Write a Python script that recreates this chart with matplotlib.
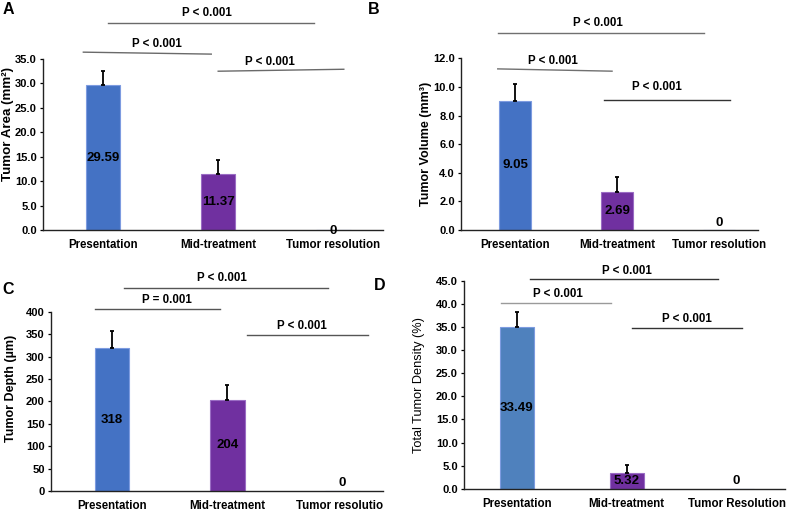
import matplotlib
matplotlib.use("Agg")
import matplotlib.pyplot as plt
from matplotlib.transforms import Bbox, TransformedBbox

plt.rcParams['font.family'] = ['Liberation Sans', 'DejaVu Sans']

# ---------------- data ----------------
categories_abc = ["Presentation", "Mid-treatment", "Tumor resolution"]
categories_d = ["Presentation", "Mid-treatment", "Tumor Resolution"]

area_values = [29.59, 11.37, 0]
area_errors = [3.0, 3.0, 0]
area_labels = ["29.59", "11.37", "0"]
area_yticks = [0, 5, 10, 15, 20, 25, 30, 35]

volume_values = [9.05, 2.69, 0]
volume_errors = [1.15, 1.0, 0]
volume_labels = ["9.05", "2.69", "0"]
volume_yticks = [0, 2, 4, 6, 8, 10, 12]

depth_values = [318, 204, 0]
depth_errors = [38, 33, 0]
depth_labels = ["318", "204", "0"]
depth_yticks = [0, 50, 100, 150, 200, 250, 300, 350, 400]

density_values = [35.0, 3.35, 0]
density_errors = [3.3, 1.7, 0]
density_labels = ["33.49", "5.32", "0"]
density_yticks = [0, 5, 10, 15, 20, 25, 30, 35, 40, 45]

p_texts_a = ["P < 0.001", "P < 0.001", "P < 0.001"]
p_texts_b = ["P < 0.001", "P < 0.001", "P < 0.001"]
p_texts_c = ["P < 0.001", "P = 0.001", "P < 0.001"]
p_texts_d = ["P < 0.001", "P < 0.001", "P < 0.001"]

# ---------------- layout / style ----------------
W, H = 795, 512
BLUE = "#4472C4"
BLUE_D = "#4F81BD"
PURPLE = "#7030A0"

panels = [
    dict(letter="A", letter_xy=(8, 9), rect=(43, 59, 383, 230), xlim=(-0.52, 2.43), width=0.30,
         values=area_values, errors=area_errors, labels=area_labels, yticks=area_yticks, fmt="{:.1f}",
         cats=categories_abc, ylabel="Tumor Area (mm²)", ylabel_size=9.6, ylabel_weight="bold",
         ylabel_xy=(-0.103, 0.62), colors=[BLUE, PURPLE, BLUE], zero_off=-1.5,
         brackets=[(0.04, 1.83, 42.3, 42.3, 0.90, 10.6, "#6a6a6a"),
                   (-0.17, 0.94, 36.4, 36.0, 0.47, 9.0, "#6a6a6a"),
                   (1.00, 2.09, 32.5, 32.9, 1.45, 8.0, "#6a6a6a")],
         ptexts=p_texts_a, clip_right=None),
    dict(letter="B", letter_xy=(374, 9), rect=(461, 58.3, 758, 230), xlim=(-0.53, 2.38), width=0.31,
         values=volume_values, errors=volume_errors, labels=volume_labels, yticks=volume_yticks, fmt="{:.1f}",
         cats=categories_abc, ylabel="Tumor Volume (mm³)", ylabel_size=9.0, ylabel_weight="bold",
         ylabel_xy=(-0.118, 0.50), colors=[BLUE, PURPLE, BLUE], zero_off=7,
         brackets=[(-0.17, 1.85, 13.75, 13.75, 0.81, 10.3, "#707070"),
                   (-0.17, 0.95, 11.26, 11.10, 0.37, 9.0, "#707070"),
                   (0.87, 2.11, 9.09, 9.09, 1.39, 13.0, "#333333")],
         ptexts=p_texts_b, clip_right=None),
    dict(letter="C", letter_xy=(8.5, 289.5), rect=(51, 311.7, 383, 491), xlim=(-0.53, 2.35), width=0.30,
         values=depth_values, errors=depth_errors, labels=depth_labels, yticks=depth_yticks, fmt="{:.0f}",
         cats=categories_abc, ylabel="Tumor Depth (µm)", ylabel_size=9.0, ylabel_weight="bold",
         ylabel_xy=(-0.12, 0.574), colors=[BLUE, PURPLE, BLUE], zero_off=7.5,
         brackets=[(0.10, 1.87, 452, 452, 0.95, 10.6, "#555555"),
                   (-0.15, 0.94, 407, 407, 0.48, 8.7, "#555555"),
                   (1.17, 2.22, 348, 348, 1.65, 9.0, "#555555")],
         ptexts=p_texts_c, clip_right=383),
    dict(letter="D", letter_xy=(380, 285), rect=(464, 281, 785, 488.7), xlim=(-0.48, 2.44), width=0.31,
         values=density_values, errors=density_errors, labels=density_labels, yticks=density_yticks, fmt="{:.1f}",
         cats=categories_d, ylabel="Total Tumor Density (%)", ylabel_size=9.2, ylabel_weight="normal",
         ylabel_xy=(-0.14, 0.50), colors=[BLUE_D, PURPLE, BLUE_D], zero_off=8,
         brackets=[(0.12, 1.83, 45.4, 45.4, 1.00, 8.3, "#333333"),
                   (-0.14, 0.86, 40.2, 40.2, 0.37, 9.3, "#9a9a9a"),
                   (1.05, 2.05, 34.9, 34.9, 1.55, 8.7, "#333333")],
         ptexts=p_texts_d, clip_right=None),
]

fig = plt.figure(figsize=(W / 100, H / 100), dpi=100)
fig.patch.set_facecolor("white")
PX2PT = 72 / 100.0

for p in panels:
    l, t, r, b = p["rect"]
    ax = fig.add_axes([l / W, 1 - b / H, (r - l) / W, (b - t) / H])
    x = list(range(len(p["cats"])))
    edge = ["#7d9be0" if c != PURPLE else "#9a6cc4" for c in p["colors"]]
    ax.bar(x, p["values"], width=p["width"], color=p["colors"], edgecolor=edge, linewidth=0.8,
           zorder=2)
    err_x = [xi for xi, e in zip(x, p["errors"]) if e > 0]
    err_y = [v for v, e in zip(p["values"], p["errors"]) if e > 0]
    err_e = [e for e in p["errors"] if e > 0]
    ax.errorbar(err_x, err_y, yerr=[[0] * len(err_e), err_e], fmt="none", ecolor="black",
                elinewidth=1.3, capsize=1.5, capthick=1.3, zorder=3)
    ax.set_xlim(*p["xlim"])
    ax.set_ylim(p["yticks"][0], p["yticks"][-1])
    ax.set_yticks(p["yticks"])
    ax.set_yticklabels([p["fmt"].format(v) for v in p["yticks"]], fontsize=8.0, fontweight="bold")
    ax.set_xticks(x)
    ax.set_xticklabels(p["cats"], fontsize=8.3, fontweight="bold")
    ax.tick_params(axis="x", length=0, pad=6.5)
    ax.tick_params(axis="y", length=2.5, width=0.9, pad=2.0, direction="out")
    for s in ["top", "right"]:
        ax.spines[s].set_visible(False)
    for s in ["left", "bottom"]:
        ax.spines[s].set_linewidth(1.0)
        ax.spines[s].set_color("#222222")
    ax.set_ylabel(p["ylabel"], fontsize=p["ylabel_size"], fontweight=p["ylabel_weight"], va="center")
    ax.yaxis.set_label_coords(*p["ylabel_xy"])

    # value labels
    for xi, v, lab in zip(x, p["values"], p["labels"]):
        if v > 0:
            ax.text(xi, v / 2, lab, ha="center", va="center", fontsize=9.5, fontweight="bold",
                    zorder=4)
        else:
            ax.annotate(lab, (xi, 0), xytext=(0, p["zero_off"] * PX2PT), textcoords="offset points",
                        ha="center", va="center", fontsize=9.5, fontweight="bold", zorder=4,
                        annotation_clip=False)

    # significance lines
    for (x0, x1, y0, y1, tx, toff, col), txt in zip(p["brackets"], p["ptexts"]):
        ax.plot([x0, x1], [y0, y1], color=col, lw=1.0, clip_on=False, zorder=1)
        ax.annotate(txt, (tx, (y0 + y1) / 2), xytext=(0, toff * PX2PT), textcoords="offset points",
                    ha="center", va="center", fontsize=8.3, fontweight="bold", annotation_clip=False)

    if p["clip_right"] is not None:
        cb = TransformedBbox(Bbox([[0, 0], [p["clip_right"] / W, 1]]), fig.transFigure)
        for lab in ax.get_xticklabels():
            lab.set_clip_box(cb)
            lab.set_clip_on(True)

    lx, ly = p["letter_xy"]
    fig.text(lx / W, 1 - ly / H, p["letter"], ha="center", va="center", fontsize=11.5,
             fontweight="bold")

fig.savefig("out.png", dpi=100, facecolor="white")
